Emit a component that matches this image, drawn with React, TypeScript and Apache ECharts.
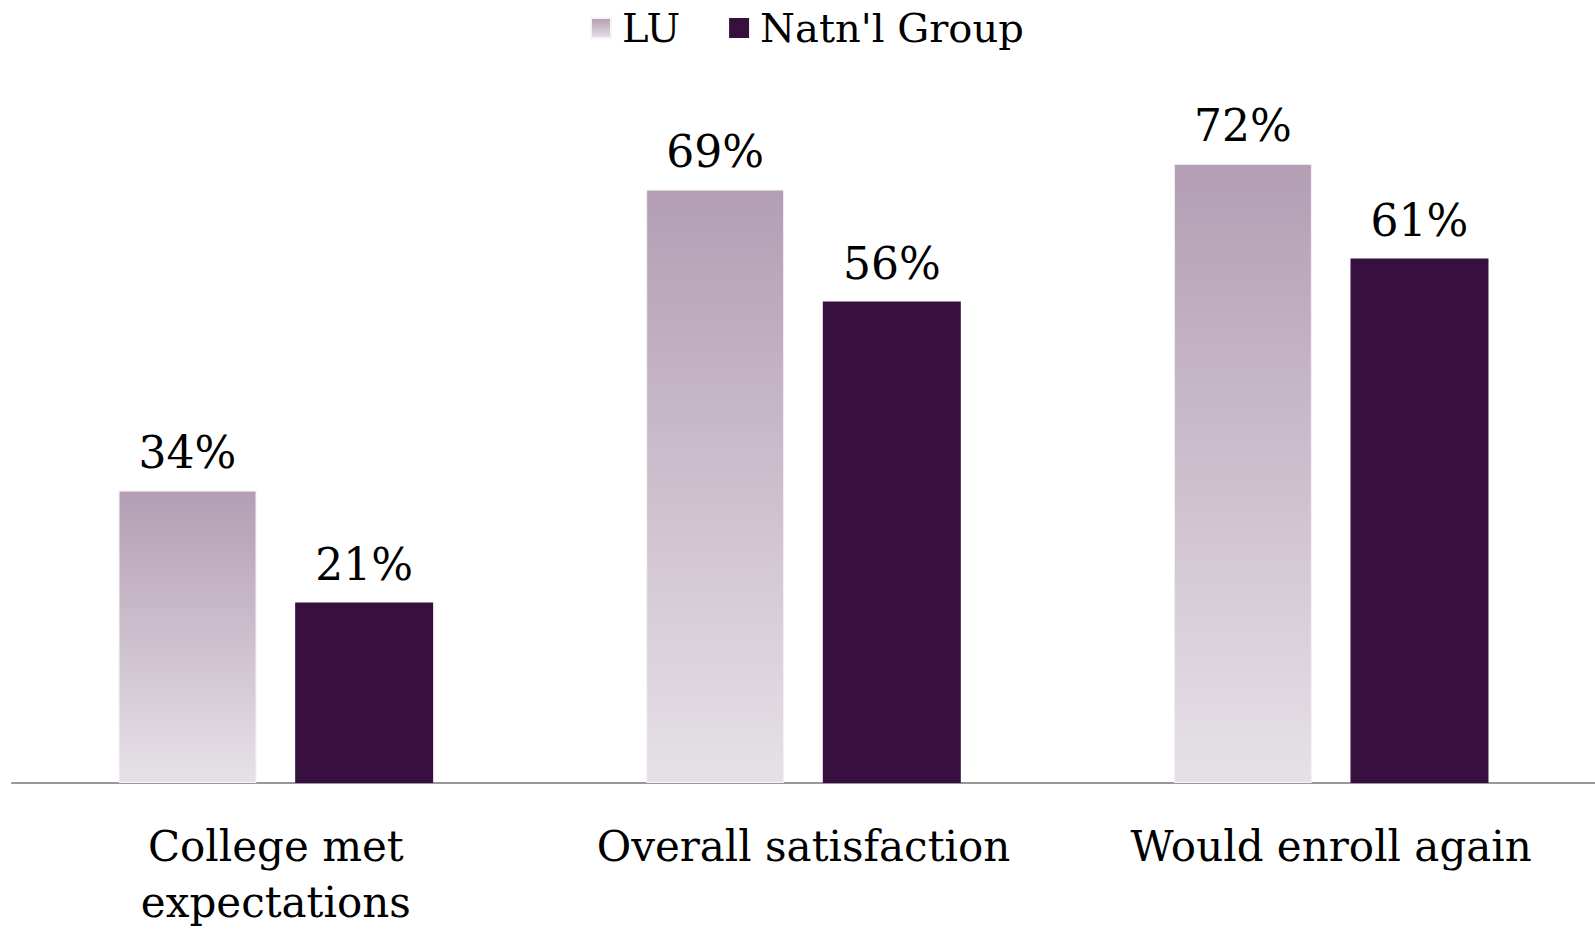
import React, { useEffect, useRef } from "react";
import * as echarts from "echarts";

const categories = ["College met\nexpectations", "Overall satisfaction", "Would enroll again"];
const seriesNames = ["LU", "Natn'l Group"];
const luValues = [34, 69, 72];
const natnValues = [21, 56, 61];

const FONT = "DejaVu Serif";

export default function App() {
  const ref = useRef<HTMLDivElement>(null);
  useEffect(() => {
    if (!ref.current) return;
    const chart = echarts.init(ref.current, null, { renderer: "svg" });
    const luGradient = new echarts.graphic.LinearGradient(0, 0, 0, 1, [
      { offset: 0, color: "#b39eb3" },
      { offset: 1, color: "#e6e1e7" },
    ]);
    chart.setOption({
      animation: false,
      backgroundColor: "#ffffff",
      legend: {
        top: 3,
        left: 585,
        itemWidth: 20,
        itemHeight: 20,
        itemGap: 49,
        icon: "rect",
        textStyle: { fontFamily: FONT, fontSize: 40, color: "#000", padding: [0, 0, 0, 6] },
        data: [
          { name: seriesNames[0], itemStyle: { color: luGradient } },
          { name: seriesNames[1], itemStyle: { color: "#371040" } },
        ],
      },
      grid: { left: 12, right: -8.5, top: 95, bottom: 141 },
      xAxis: {
        type: "category",
        data: categories,
        axisLine: { show: true, lineStyle: { color: "#999999", width: 2 } },
        axisTick: { show: false },
        axisLabel: {
          interval: 0,
          fontFamily: FONT,
          fontSize: 42,
          lineHeight: 56,
          color: "#000",
          margin: 35,
        },
      },
      yAxis: { type: "value", min: 0, max: 80, show: false, splitLine: { show: false } },
      series: [
        {
          name: seriesNames[0],
          type: "bar",
          data: luValues,
          barWidth: 138,
          barGap: "28%",
          itemStyle: { color: luGradient, borderColor: "#f5f3f5", borderWidth: 1 },
          label: {
            show: true,
            position: "top",
            distance: 16,
            formatter: "{c}%",
            fontFamily: FONT,
            fontSize: 44,
            lineHeight: 44,
            color: "#000",
          },
        },
        {
          name: seriesNames[1],
          type: "bar",
          data: natnValues,
          barWidth: 138,
          itemStyle: { color: "#371040" },
          label: {
            show: true,
            position: "top",
            distance: 16,
            formatter: "{c}%",
            fontFamily: FONT,
            fontSize: 44,
            lineHeight: 44,
            color: "#000",
          },
        },
      ],
    });
    return () => chart.dispose();
  }, []);
  return (
    <div
      ref={ref}
      style={{ position: "absolute", left: 0, top: 0, width: 1595, height: 930 }}
    />
  );
}
